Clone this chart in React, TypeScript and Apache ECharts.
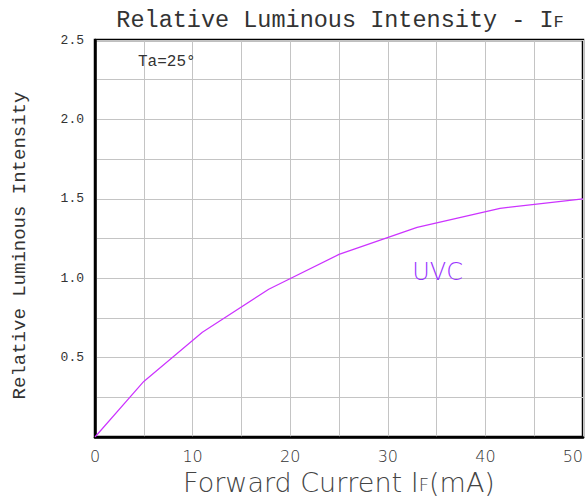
import React, { useEffect, useRef } from "react";
import * as echarts from "echarts";

const currentMA = [0, 5, 11, 17.8, 25, 33, 41.5, 50];
const intensity = [0, 0.35, 0.66, 0.93, 1.15, 1.32, 1.44, 1.5];
const seriesName = "UVC";
const seriesLabelAt = [35.1, 1.04];
const conditionText = "Ta=25°";

const MONO = "'Liberation Mono', 'DejaVu Sans Mono', monospace";
const SANS = "'DejaVu Sans', sans-serif";

export default function App() {
  const ref = useRef<HTMLDivElement>(null);
  useEffect(() => {
    if (!ref.current) return;
    const chart = echarts.init(ref.current, null, { renderer: "svg" });
    const lineData = currentMA.map((x, i) => [x, intensity[i]]);
    chart.setOption({
      animation: false,
      backgroundColor: "#fff",
      grid: {
        left: 95,
        right: 3,
        top: 40,
        bottom: 60,
        outerBoundsMode: "none",
        containLabel: false,
        show: true,
        borderColor: "#000",
        borderWidth: 2.5,
        backgroundColor: "transparent",
      },
      graphic: [
        {
          type: "text",
          x: 340,
          y: 19,
          style: {
            text: "{m|Relative Luminous Intensity - I}{s|F}",
            textAlign: "center",
            textVerticalAlign: "middle",
            rich: {
              m: { fontFamily: MONO, fontSize: 23.5, fill: "#333", verticalAlign: "bottom", lineHeight: 26 },
              s: { fontFamily: MONO, fontSize: 17, fill: "#333", verticalAlign: "bottom", lineHeight: 26, padding: [0, 0, 1, 0] },
            },
          },
          z: 10,
        },
        {
          type: "text",
          x: 138,
          y: 62,
          style: {
            text: conditionText,
            fontFamily: MONO,
            fontSize: 16,
            fill: "#333",
            textAlign: "left",
            textVerticalAlign: "middle",
          },
          z: 10,
        },
      ],
      xAxis: {
        type: "value",
        min: 0,
        max: 50,
        interval: 5,
        name: "{m|Forward Current I}{s|F}{m|(mA)}",
        nameLocation: "middle",
        nameGap: 28,
        nameTextStyle: {
          rich: {
            m: { fontFamily: SANS, fontSize: 27, fontWeight: 200, color: "#444", verticalAlign: "bottom", lineHeight: 26 },
            s: { fontFamily: SANS, fontSize: 18, fontWeight: 200, color: "#444", verticalAlign: "bottom", lineHeight: 26, padding: [0, 0, 2, 0] },
          },
        },
        axisLine: { show: true, lineStyle: { color: "#000", width: 2.5 } },
        axisTick: { show: false },
        axisLabel: {
          margin: 11,
          fontFamily: SANS,
          fontSize: 16,
          fontWeight: 200,
          color: "#333",
          alignMaxLabel: "right",
          formatter: (v: number) => (v % 10 === 0 ? String(v) : ""),
        },
        splitLine: { show: true, lineStyle: { color: "#c4c4c4", width: 1 } },
      },
      yAxis: {
        type: "value",
        min: 0,
        max: 2.5,
        interval: 0.25,
        name: "Relative Luminous Intensity",
        nameLocation: "middle",
        nameGap: 66,
        nameTextStyle: { fontFamily: MONO, fontSize: 19, color: "#333", padding: [0, 14, 0, 0] },
        axisLine: { show: true, lineStyle: { color: "#000", width: 2.5 } },
        axisTick: { show: false },
        axisLabel: {
          margin: 11,
          fontFamily: MONO,
          fontSize: 13,
          color: "#333",
          formatter: (v: number) => {
            const k = v / 0.5;
            return v > 0 && Math.abs(k - Math.round(k)) < 1e-6 ? v.toFixed(1) : "";
          },
        },
        splitLine: { show: true, lineStyle: { color: "#c4c4c4", width: 1 } },
      },
      series: [
        {
          name: seriesName,
          type: "line",
          data: lineData,
          showSymbol: false,
          symbol: "none",
          lineStyle: { color: "#cc33ff", width: 1.2 },
          z: 5,
          markPoint: {
            symbol: "circle",
            symbolSize: 0,
            itemStyle: { color: "transparent" },
            label: {
              show: true,
              position: "inside",
              formatter: seriesName,
              fontFamily: SANS,
              fontSize: 24,
              fontWeight: 200,
              color: "#9933ff",
            },
            data: [{ coord: seriesLabelAt }],
          },
        },
      ],
    });
    return () => chart.dispose();
  }, []);
  return (
    <div
      ref={ref}
      style={{ position: "fixed", left: 0, top: 0, width: 586, height: 497, background: "#fff" }}
    />
  );
}
